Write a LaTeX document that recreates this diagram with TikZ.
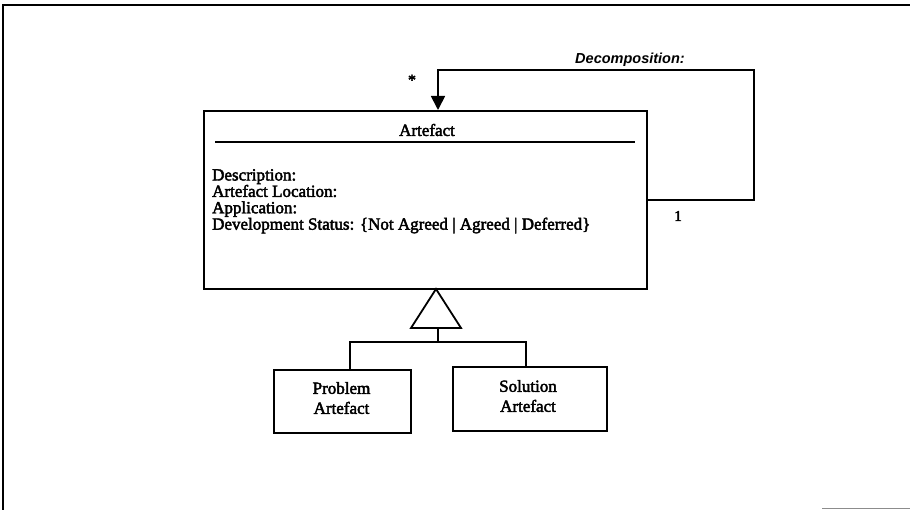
\documentclass[tikz,border=0pt]{standalone}
\usepackage{fontspec}
\setmainfont{Liberation Serif}[BoldFont={Liberation Serif},BoldFeatures={FakeBold=2.6}]
\newfontfamily\labelfont{Liberation Sans}
\usetikzlibrary{arrows.meta}
\begin{document}
\begin{tikzpicture}[x=1pt,y=-1pt,
  umlline/.style={line width=1.8pt},
  boxtext/.style={font=\bfseries\fontsize{17}{20}\selectfont,inner sep=0pt},
  attrtext/.style={font=\bfseries\fontsize{17}{16.4}\selectfont,align=left,anchor=north west,inner sep=0pt},
  multtext/.style={font=\bfseries\fontsize{15}{17}\selectfont,inner sep=0pt}]
\useasboundingbox (0,0) rectangle (910,510);
% page frame
\draw[line width=1.4pt] (3,510) -- (3,5) -- (910,5);
\draw[line width=1pt,black!45] (822,508.5) -- (910,508.5);

% main class
\node[draw,line width=1.8pt,minimum width=443pt,minimum height=178pt,anchor=north west,inner sep=0pt] (art) at (203,110) {};
\node[boxtext] (arttitle) at (427,130) {Artefact};
\draw[line width=1.6pt] (215,142) -- (635,142);
\node[attrtext] (attrs) at (212,169) {Description:\\Artefact Location:\\Application:\\Development Status: \{Not Agreed | Agreed | Deferred\}};

% self association (decomposition)
\coordinate (loopstart) at (646,200);
\coordinate (c1) at (754,200);
\coordinate (c2) at (754,70);
\coordinate (c3) at (438,70);
\coordinate (loopend) at (438,110);
\draw[umlline,-{Triangle[length=14pt,width=14pt]}] (loopstart) -- (c1) -- (c2) -- (c3) -- (loopend);
\node[font=\labelfont\bfseries\itshape\fontsize{14.5}{16}\selectfont,inner sep=0pt] (decomp) at (630,60) {Decomposition:};
\node[font=\bfseries\fontsize{16}{17}\selectfont,inner sep=0pt] (many) at (412,80) {*};
\node[multtext] (one) at (678,216) {1};

% generalisation
\coordinate (tipgen) at (436,289);
\coordinate (bl) at (411,328);
\coordinate (br) at (461,328);
\draw[line width=1.8pt,fill=white,line join=miter] (tipgen) -- (br) -- (bl) -- cycle;
\coordinate (joint) at (438,342);

% subclasses
\node[draw,line width=1.8pt,minimum width=137pt,minimum height=63pt,anchor=north west,inner sep=0pt] (prob) at (273,369) {};
\node[boxtext,align=center] (probtxt) at (341.5,398) {Problem\\Artefact};
\node[draw,line width=1.8pt,minimum width=154pt,minimum height=64pt,anchor=north west,inner sep=0pt] (sol) at (452,366) {};
\node[boxtext,align=center] (soltxt) at (528,396) {Solution\\Artefact};

\draw[umlline] (438,328) -- (joint);
\draw[umlline] (350,369) -- (350,342) -- (526,342) -- (526,366);
\end{tikzpicture}
\end{document}
